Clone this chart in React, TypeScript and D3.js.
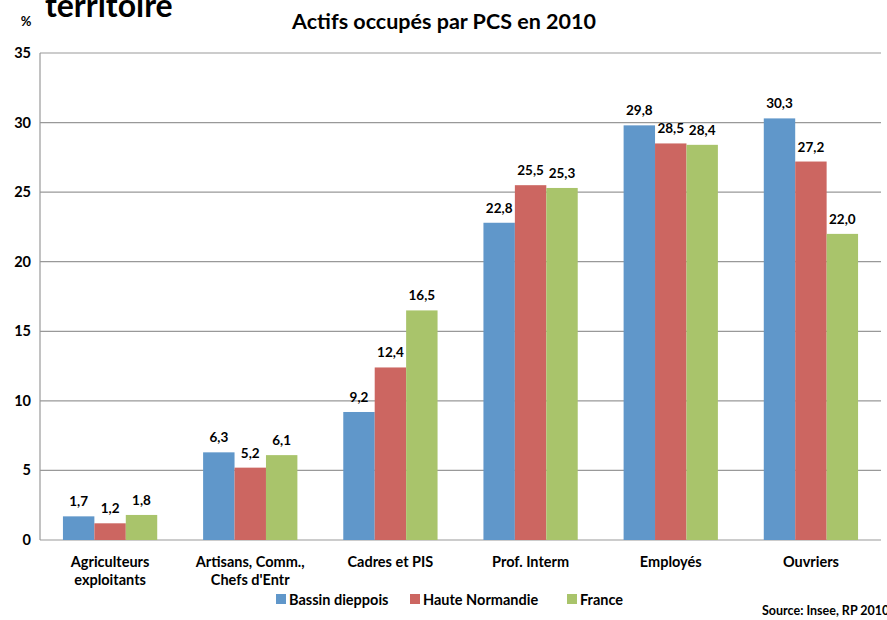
import React from "react";
import * as d3 from "d3";

const categories = [
  ["Agriculteurs", "exploitants"],
  ["Artisans, Comm.,", "Chefs d'Entr"],
  ["Cadres et PIS"],
  ["Prof. Interm"],
  ["Employés"],
  ["Ouvriers"],
];
const seriesNames = ["Bassin dieppois", "Haute Normandie", "France"];
const bassin = [1.7, 6.3, 9.2, 22.8, 29.8, 30.3];
const haute = [1.2, 5.2, 12.4, 25.5, 28.5, 27.2];
const france = [1.8, 6.1, 16.5, 25.3, 28.4, 22.0];
const yTicks = [0, 5, 10, 15, 20, 25, 30, 35];
const colors = ["#6097CA", "#CC6661", "#A9C46B"];

const W = 887;
const H = 620;
const FONT = "Lato, 'Open Sans', sans-serif";

export default function App() {
  const left = 40;
  const right = 881;
  const top = 53;
  const bottom = 540;
  const series = [bassin, haute, france];
  const catKeys = categories.map((c) => c.join(" "));
  const x = d3.scaleBand<string>().domain(catKeys).range([left, right]).paddingInner(0).paddingOuter(0);
  const xs = d3
    .scaleBand<string>()
    .domain(seriesNames)
    .range([0, x.bandwidth()])
    .paddingInner(0)
    .paddingOuter(0.73);
  const y = d3.scaleLinear().domain([0, 35]).range([bottom, top]);
  const fmt = (v: number) => v.toFixed(1).replace(".", ",");

  const legendX = [276, 410, 567];

  return (
    <svg width={W} height={H} style={{ position: "absolute", left: 0, top: 0, fontFamily: FONT }}>
      <rect x={0} y={0} width={W} height={H} fill="#fff" />
      <text x={45} y={17} fontSize={32} fontWeight={700} fill="#000">
        territoire
      </text>
      <text x={26} y={26} fontSize={13} fontWeight={700} textAnchor="middle">
        %
      </text>
      <text x={444} y={29} fontSize={21.5} fontWeight={700} textAnchor="middle">
        Actifs occupés par PCS en 2010
      </text>
      {yTicks.map((t) => (
        <g key={t}>
          <line x1={left} x2={right} y1={y(t)} y2={y(t)} stroke="#999" strokeWidth={1.2} />
          <text x={31} y={y(t) + 5} fontSize={14.5} fontWeight={700} textAnchor="end">
            {t}
          </text>
        </g>
      ))}
      <line x1={left} x2={left} y1={top} y2={bottom} stroke="#999" strokeWidth={1.2} />
      {catKeys.map((k, i) => (
        <g key={k}>
          {series.map((s, j) => (
            <g key={j}>
              <rect
                x={(x(k) as number) + (xs(seriesNames[j]) as number)}
                y={y(s[i])}
                width={xs.bandwidth()}
                height={bottom - y(s[i])}
                fill={colors[j]}
              />
              <text
                x={(x(k) as number) + (xs(seriesNames[j]) as number) + xs.bandwidth() / 2}
                y={y(s[i]) - 10}
                fontSize={13.5}
                fontWeight={700}
                textAnchor="middle"
              >
                {fmt(s[i])}
              </text>
            </g>
          ))}
          {categories[i].map((line, li) => (
            <text
              key={li}
              x={(x(k) as number) + x.bandwidth() / 2}
              y={567 + li * 18}
              fontSize={14.5}
              fontWeight={700}
              textAnchor="middle"
            >
              {line}
            </text>
          ))}
        </g>
      ))}
      {seriesNames.map((n, j) => (
        <g key={n}>
          <rect x={legendX[j]} y={594} width={10} height={10} fill={colors[j]} />
          <text x={legendX[j] + 13} y={605} fontSize={14.5} fontWeight={700}>
            {n}
          </text>
        </g>
      ))}
      <text x={762} y={615} fontSize={12.5} fontWeight={700}>
        Source: Insee, RP 2010
      </text>
    </svg>
  );
}
